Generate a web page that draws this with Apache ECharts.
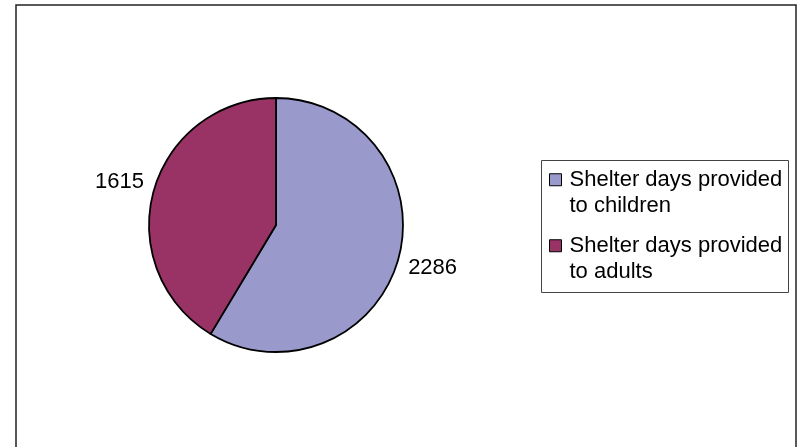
<!DOCTYPE html>
<html>
<head>
<meta charset="utf-8">
<style>
  html, body { margin: 0; padding: 0; background: #ffffff; }
  #chart { width: 802px; height: 447px; }
</style>
<script src="https://cdn.jsdelivr.net/npm/echarts@6/dist/echarts.min.js"></script>
</head>
<body>
<div id="chart"></div>
<script>
// ---- data ----
const categories = ['Shelter days provided to children', 'Shelter days provided to adults'];
const legendLines = [['Shelter days provided', 'to children'], ['Shelter days provided', 'to adults']];
const values = [2286, 1615];
const colors = ['#9999CC', '#993366'];

const chart = echarts.init(document.getElementById('chart'), null, { renderer: 'canvas' });

const pieData = categories.map((name, i) => ({
  name: name,
  value: values[i],
  itemStyle: { color: colors[i] }
}));

const labelData = categories.map((name, i) => ({
  name: name,
  value: values[i]
}));

const font = '"Liberation Sans", Arial, Helvetica, sans-serif';

const option = {
  animation: false,
  backgroundColor: '#ffffff',
  graphic: [
    {
      type: 'rect',
      silent: true,
      shape: { x: 16, y: 5, width: 780, height: 470 },
      style: { fill: 'none', stroke: '#222222', lineWidth: 1.5 }
    },
    {
      type: 'rect',
      silent: true,
      shape: { x: 541.5, y: 160.5, width: 247, height: 132 },
      style: { fill: 'none', stroke: '#444444', lineWidth: 1 }
    }
  ],
  legend: {
    orient: 'vertical',
    left: 549,
    top: 140,
    padding: 0,
    itemGap: -13.5,
    icon: 'rect',
    itemWidth: 12,
    itemHeight: 12,
    selectedMode: false,
    data: categories.map((name, i) => ({
      name: name,
      itemStyle: { color: colors[i], borderColor: '#000000', borderWidth: 1 }
    })),
    formatter: function (name) {
      const i = categories.indexOf(name);
      // leading empty line keeps the first text line level with the marker
      return ' \n' + legendLines[i].join('\n');
    },
    textStyle: {
      fontFamily: font,
      fontSize: 22,
      color: '#000000',
      lineHeight: 26.5,
      padding: [0, 0, 0, 3]
    }
  },
  series: [
    {
      name: 'Shelter days',
      type: 'pie',
      center: [276, 225],
      radius: 127,
      startAngle: 90,
      clockwise: true,
      silent: true,
      label: { show: false },
      labelLine: { show: false },
      emphasis: { disabled: true },
      itemStyle: { borderColor: '#000000', borderWidth: 1.8 },
      data: pieData
    },
    {
      name: 'labels',
      type: 'pie',
      center: [276, 225],
      radius: [147, 172],
      startAngle: 90,
      clockwise: true,
      silent: true,
      emphasis: { disabled: true },
      itemStyle: { color: 'rgba(0,0,0,0)', borderWidth: 0 },
      label: {
        show: true,
        position: 'inside',
        formatter: '{c}',
        fontFamily: font,
        fontSize: 22,
        color: '#000000'
      },
      labelLine: { show: false },
      data: labelData
    }
  ]
};

chart.setOption(option);
</script>
</body>
</html>
